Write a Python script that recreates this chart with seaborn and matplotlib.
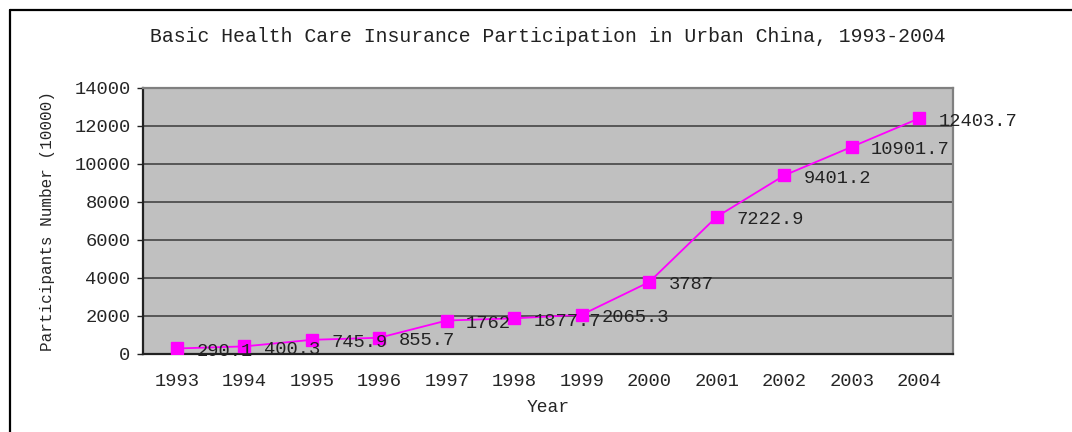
import numpy as np
import matplotlib
matplotlib.use("Agg")
import matplotlib.pyplot as plt
from matplotlib.lines import Line2D
import seaborn as sns

# Participants (10000 persons) by year
years = ["1993", "1994", "1995", "1996", "1997", "1998",
         "1999", "2000", "2001", "2002", "2003", "2004"]
participants = [290.1, 400.3, 745.9, 855.7, 1762, 1877.7,
                2065.3, 3787, 7222.9, 9401.2, 10901.7, 12403.7]
y_ticks = [0, 2000, 4000, 6000, 8000, 10000, 12000, 14000]

sns.set_style("white")
plt.rcParams['font.family'] = ['Liberation Mono', 'DejaVu Sans Mono']
plt.rcParams['text.color'] = '#222222'

fig = plt.figure(figsize=(10.72, 4.32), dpi=100)
ax = fig.add_axes([143 / 1072, 1 - 354 / 432, 810 / 1072, 266 / 432])
ax.set_facecolor('#C0C0C0')

sns.pointplot(x=years, y=participants, color='#FF00FF', marker='s',
              markersize=8.5, linewidth=1.3, errorbar=None, ax=ax, zorder=3)

# data labels
for i, v in enumerate(participants):
    ax.annotate(f"{v:g}", (i, v), xytext=(14, -2), textcoords='offset points',
                ha='left', va='center', fontsize=13.5, color='#222222',
                annotation_clip=False, zorder=4)

ax.set_xlim(-0.5, len(years) - 0.5)
ax.set_ylim(0, 14000)
ax.set_yticks(y_ticks)
ax.set_yticklabels([str(t) for t in y_ticks])
ax.yaxis.grid(True, color='#3a3a3a', linewidth=1.1)
ax.set_axisbelow(True)

# category-boundary ticks on the x axis
ax.set_xticks(np.arange(-0.5, len(years), 1), minor=True)
ax.tick_params(axis='x', which='major', length=0, pad=14, labelsize=13.5)
ax.tick_params(axis='x', which='minor', direction='in', length=4, width=1, color='#222222')
ax.tick_params(axis='y', which='major', direction='out', length=4, width=1,
               color='#222222', pad=5, labelsize=13.5, left=True)

for side in ['left', 'bottom']:
    ax.spines[side].set_color('#222222')
    ax.spines[side].set_linewidth(1.6)
for side in ['top', 'right']:
    ax.spines[side].set_color('#808080')
    ax.spines[side].set_linewidth(1.6)

ax.set_xlabel('Year', fontsize=13, labelpad=6)
ax.set_ylabel('Participants Number (10000)', fontsize=11.5, labelpad=14)
fig.text(0.511, 1 - 36 / 432, 'Basic Health Care Insurance Participation in Urban China, 1993-2004',
         ha='center', va='center', fontsize=14.2)

# outer chart border (top and left visible)
fig.add_artist(Line2D([10 / 1072, 1.0], [1 - 10 / 432, 1 - 10 / 432],
                      transform=fig.transFigure, color='black', linewidth=1.6))
fig.add_artist(Line2D([10 / 1072, 10 / 1072], [0.0, 1 - 10 / 432],
                      transform=fig.transFigure, color='black', linewidth=1.6))

fig.savefig('out.png', dpi=100)
